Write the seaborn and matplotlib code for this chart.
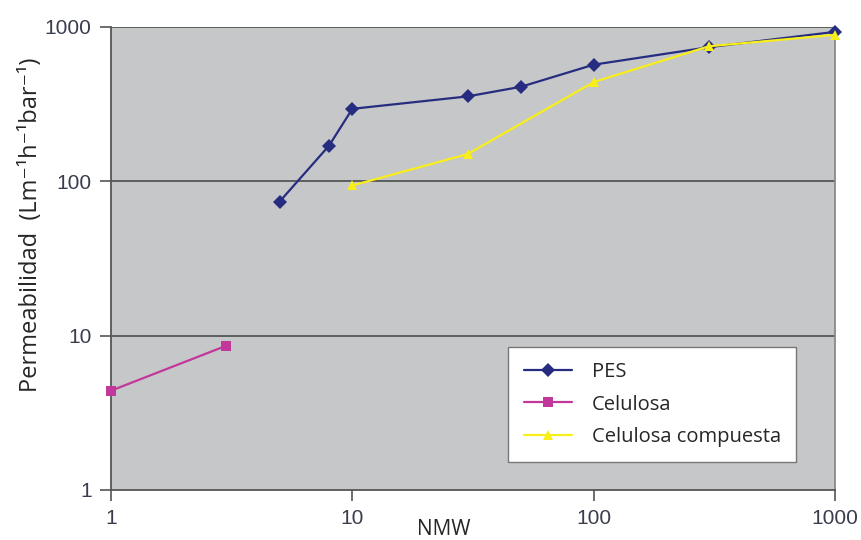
import numpy as np
import pandas as pd
import matplotlib
matplotlib.use("Agg")
import matplotlib.pyplot as plt
import seaborn as sns

# valeurs (échelle log-log)
nmw_pes = [5, 8, 10, 30, 50, 100, 300, 1000]
perm_pes = [74, 170, 295, 355, 410, 570, 740, 930]
nmw_cel = [1, 3]
perm_cel = [4.4, 8.6]
nmw_comp = [10, 30, 100, 300, 1000]
perm_comp = [94, 150, 440, 750, 890]

series_names = ["PES", "Celulosa", "Celulosa compuesta"]
colors = {"PES": "#262d80", "Celulosa": "#c2379a", "Celulosa compuesta": "#f7ee1a"}
markers = {"PES": "D", "Celulosa": "s", "Celulosa compuesta": "^"}

df = pd.concat([
    pd.DataFrame({"NMW": nmw_pes, "Perm": perm_pes, "Serie": "PES"}),
    pd.DataFrame({"NMW": nmw_cel, "Perm": perm_cel, "Serie": "Celulosa"}),
    pd.DataFrame({"NMW": nmw_comp, "Perm": perm_comp, "Serie": "Celulosa compuesta"}),
], ignore_index=True)

sns.set_style("white")
plt.rcParams['font.family'] = ['Liberation Sans', 'DejaVu Sans']
label_font = ["Open Sans", "DejaVu Sans"]

fig = plt.figure(figsize=(8.62, 5.40), dpi=100)
ax = fig.add_axes([0.1288, 0.0926, 0.8399, 0.8574])
ax.set_facecolor("#c6c7c9")

sns.lineplot(
    data=df, x="NMW", y="Perm", hue="Serie", style="Serie",
    hue_order=series_names, style_order=series_names,
    palette=colors, markers=markers, dashes=False,
    markersize=7.5, markeredgewidth=0, linewidth=1.6, ax=ax,
    sort=False, estimator=None,
)
for line in ax.lines:
    line.set_clip_on(False)
    line.set_zorder(3)

ax.set_xscale("log")
ax.set_yscale("log")
ax.set_xlim(1, 1000)
ax.set_ylim(1, 1000)
ax.set_xticks([1, 10, 100, 1000])
ax.set_xticklabels(["1", "10", "100", "1000"])
ax.set_yticks([1, 10, 100, 1000])
ax.set_yticklabels(["1", "10", "100", "1000"])
ax.minorticks_off()

for y in [10, 100, 1000]:
    ax.axhline(y, color="#555555", linewidth=1.3, zorder=1)

for side in ["left", "bottom"]:
    ax.spines[side].set_color("#555555")
    ax.spines[side].set_linewidth(1.3)
ax.spines["right"].set_color("#8a8a8a")
ax.spines["right"].set_linewidth(1.3)
ax.spines["top"].set_visible(False)

ax.tick_params(axis="both", which="major", direction="out", length=8, width=1.2,
               color="#555555", labelsize=15, labelcolor="#3a3d4e", pad=6,
               bottom=True, left=True)

ax.set_xlabel("NMW", fontsize=15, family=label_font)
ax.xaxis.set_label_coords(0.459, -0.062)
ax.set_ylabel("Permeabilidad  (Lm⁻¹h⁻¹bar⁻¹)", fontsize=17, family=label_font)
ax.yaxis.set_label_coords(-0.094, 0.572)

leg = ax.legend(loc="upper left", bbox_to_anchor=(0.549, 0.309), frameon=True,
                fancybox=False, framealpha=1, facecolor="white", edgecolor="#777777",
                prop={"family": "Open Sans", "size": 14.5}, handlelength=2.4,
                borderpad=0.75, labelspacing=0.62, handletextpad=1.0,
                borderaxespad=0)
leg.set_title(None)

fig.savefig("out.png", dpi=100)
